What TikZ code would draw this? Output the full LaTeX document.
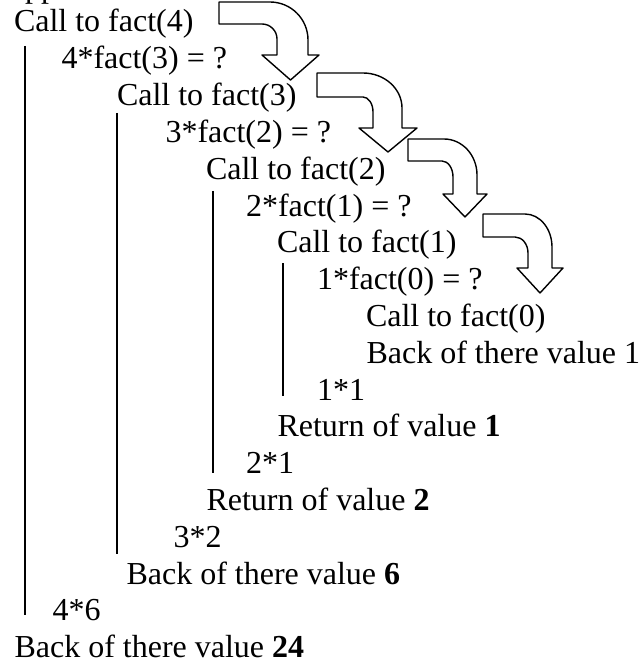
\documentclass[tikz,border=0pt]{standalone}
\usepackage{fontspec}
\setmainfont{Liberation Serif}
\begin{document}
\begin{tikzpicture}[x=1pt,y=-1pt,
  txt/.style={anchor=base west, inner sep=0pt, outer sep=0pt, font=\fontsize{32}{36.8}\selectfont},
  vline/.style={line width=2pt},
  bent/.style={draw=black, fill=white, line width=1.4pt, line join=round}]
\fill[white] (0,0) rectangle (641,660);
\useasboundingbox (0,0) rectangle (641,660);
% bent arrows
\draw[bent] (219,2) -- (270,2) .. controls (291,2) and (308,19) .. (308,40) -- (308,55)
  -- (319,55) -- (290.5,80) -- (262,55) -- (277,55) -- (277,39)
  .. controls (277,30.7) and (270.3,24) .. (262,24) -- (219,24) -- cycle;
\draw[bent] (317,73) -- (363,73) .. controls (384.5,73) and (402,88.7) .. (402,108) -- (402,128)
  -- (417,128) -- (388,152) -- (359,128) -- (373,128) -- (373,112)
  .. controls (373,103.7) and (368.5,97) .. (363,97) -- (317,97) -- cycle;
\draw[bent] (408,139) -- (444,139) .. controls (462.2,139) and (477,155.1) .. (477,175) -- (477,194)
  -- (487,194) -- (465,217) -- (443,194) -- (453,194) -- (453,177)
  .. controls (453,168.2) and (448.1,161) .. (442,161) -- (408,161) -- cycle;
\draw[bent] (483,214) -- (525,214) .. controls (539.9,214) and (552,228.8) .. (552,247) -- (552,268)
  -- (563,268) -- (540,293) -- (517,268) -- (528,268) -- (528,253)
  .. controls (528,244.2) and (522.2,237) .. (515,237) -- (483,237) -- cycle;
% vertical guide lines
\draw[vline] (25,46) -- (25,615);
\draw[vline] (117,113) -- (117,554);
\draw[vline] (213,191) -- (213,473);
\draw[vline] (283,263) -- (283,396);
% texts
\node[txt] (l0) at (25,-2.5) {pp};
\node[txt] (l1) at (14,32) {Call to fact(4)};
\node[txt] (l2) at (61.5,68.8) {4*fact(3) = ?};
\node[txt] (l3) at (117,105.6) {Call to fact(3)};
\node[txt] (l4) at (165.5,142.4) {3*fact(2) = ?};
\node[txt] (l5) at (206,179.2) {Call to fact(2)};
\node[txt] (l6) at (246,216) {2*fact(1) = ?};
\node[txt] (l7) at (277,252.8) {Call to fact(1)};
\node[txt] (l8) at (317,289.6) {1*fact(0) = ?};
\node[txt] (l9) at (366,326.4) {Call to fact(0)};
\node[txt] (l10) at (366.5,363.2) {Back of there value 1};
\node[txt] (l11) at (317,400) {1*1};
\node[txt] (l12) at (277.5,436.8) {Return of value \textbf{1}};
\node[txt] (l13) at (246,473.6) {2*1};
\node[txt] (l14) at (206.5,510.4) {Return of value \textbf{2}};
\node[txt] (l15) at (173.5,547.2) {3*2};
\node[txt] (l16) at (126.5,584) {Back of there value \textbf{6}};
\node[txt] (l17) at (52.5,620.8) {4*6};
\node[txt, text depth=0pt] (l18) at (14.5,657.4) {Back of there value \textbf{24}};
\end{tikzpicture}
\end{document}
